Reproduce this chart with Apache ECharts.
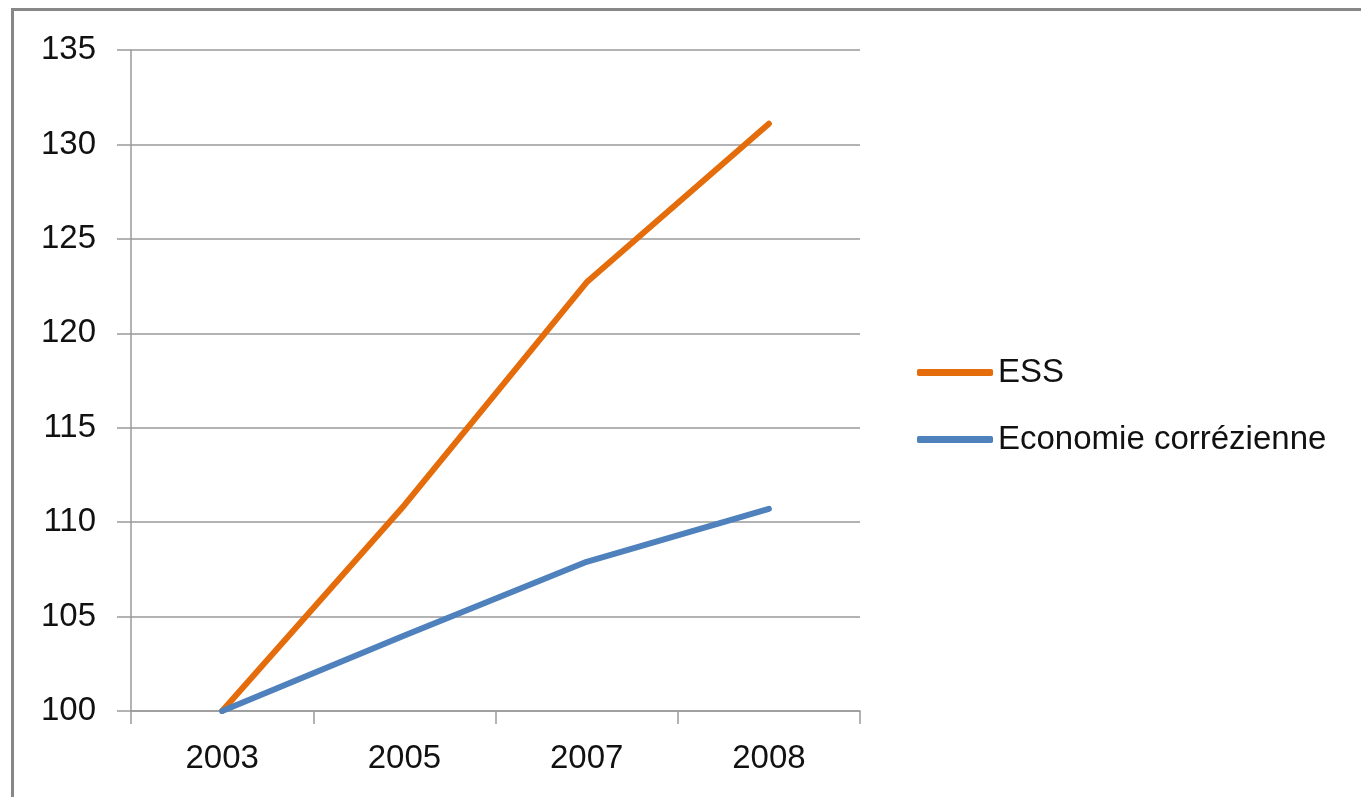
<!DOCTYPE html>
<html>
<head>
<meta charset="utf-8">
<script src="https://cdn.jsdelivr.net/npm/echarts@6/dist/echarts.min.js"></script>
<style>
html,body{margin:0;padding:0;background:#fff;}
#chart{width:1361px;height:797px;}
</style>
</head>
<body>
<div id="chart"></div>
<script>
const categories = ['2003', '2005', '2007', '2008'];
const essValues = [100, 110.9, 122.7, 131.1];
const ecoValues = [100, 104.0, 107.9, 110.7];
const seriesNames = ['ESS', 'Economie corrézienne'];

const chart = echarts.init(document.getElementById('chart'));
chart.setOption({
  backgroundColor: '#ffffff',
  animation: false,
  graphic: [
    { type: 'line', shape: { x1: 12, y1: 9.5, x2: 1361, y2: 9.5 }, style: { stroke: '#878787', lineWidth: 3 } },
    { type: 'line', shape: { x1: 12.5, y1: 8, x2: 12.5, y2: 797 }, style: { stroke: '#878787', lineWidth: 3 } }
  ],
  grid: { left: 131, right: 501, top: 50, bottom: 86, containLabel: false },
  legend: {
    orient: 'vertical',
    left: 917,
    top: 356,
    padding: 0,
    itemGap: 34,
    itemWidth: 76,
    itemHeight: 7,
    icon: 'roundRect',
    data: seriesNames,
    textStyle: { fontFamily: 'Liberation Sans', fontSize: 33, color: '#111111' }
  },
  xAxis: {
    type: 'category',
    data: categories,
    boundaryGap: true,
    axisLine: { lineStyle: { color: '#9a9a9a', width: 1.5 } },
    axisTick: { show: true, length: 13, alignWithLabel: false, lineStyle: { color: '#9a9a9a', width: 1.5 } },
    axisLabel: { fontFamily: 'Liberation Sans', fontSize: 33, color: '#111111', margin: 31 }
  },
  yAxis: {
    type: 'value',
    min: 100,
    max: 135,
    interval: 5,
    axisLine: { show: true, lineStyle: { color: '#9a9a9a', width: 1.5 } },
    axisTick: { show: true, length: 14, lineStyle: { color: '#9a9a9a', width: 1.5 } },
    splitLine: { show: true, lineStyle: { color: '#9a9a9a', width: 1.5 } },
    axisLabel: { fontFamily: 'Liberation Sans', fontSize: 33, color: '#111111', margin: 35 }
  },
  series: [
    {
      name: seriesNames[0], type: 'line', data: essValues, symbol: 'none',
      lineStyle: { color: '#E46C0A', width: 6, cap: 'round', join: 'round' },
      itemStyle: { color: '#E46C0A' }
    },
    {
      name: seriesNames[1], type: 'line', data: ecoValues, symbol: 'none',
      lineStyle: { color: '#4F81BD', width: 6, cap: 'round', join: 'round' },
      itemStyle: { color: '#4F81BD' }
    }
  ]
});
</script>
</body>
</html>
